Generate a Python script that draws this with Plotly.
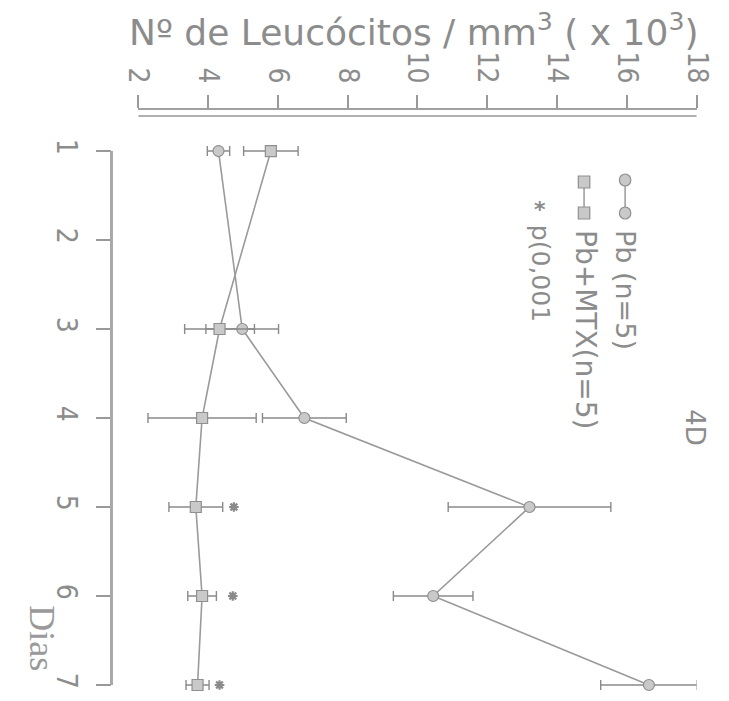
import plotly.graph_objects as go

# ---------------- data ----------------
days = [1, 2, 3, 4, 5, 6, 7]
day_labels = ["1", "2", "3", "4", "5", "6", "7"]
value_ticks = [2, 4, 6, 8, 10, 12, 14, 16, 18]
value_labels = ["2", "4", "6", "8", "10", "12", "14", "16", "18"]

pb_days = [1, 3, 4, 5, 6, 7]
pb_mean = [4.30, 4.98, 6.76, 13.21, 10.45, 16.63]
pb_err = [0.32, 1.04, 1.20, 2.33, 1.14, 1.38]

mtx_days = [1, 3, 4, 5, 6, 7]
mtx_mean = [5.80, 4.33, 3.83, 3.65, 3.83, 3.70]
mtx_err = [0.78, 1.00, 1.55, 0.77, 0.41, 0.33]

sig_days = [5, 6, 7]
sig_vals = [4.74, 4.71, 4.33]

# ---------------- styling ----------------
W, H = 729, 701
TXT = "#8c8c8c"
LINE = "#9a9a9a"
FILL = "#c9c9c9"
EDGE = "#8f8f8f"
TICKFONT = "Liberation Sans Narrow, DejaVu Sans Condensed, Liberation Sans, sans-serif"


def px(x):
    return x / W


def py(y):
    return 1 - y / H


fig = go.Figure()

fig.add_trace(go.Scatter(
    x=pb_mean, y=pb_days, mode="lines+markers", cliponaxis=False,
    line=dict(color=LINE, width=1.6),
    marker=dict(symbol="circle", size=11, color=FILL, line=dict(color=EDGE, width=1.2)),
    error_x=dict(type="data", array=pb_err, visible=True, color="#8a8a8a", thickness=1.4, width=5),
    showlegend=False,
))
fig.add_trace(go.Scatter(
    x=mtx_mean, y=mtx_days, mode="lines+markers", cliponaxis=False,
    line=dict(color=LINE, width=1.6),
    marker=dict(symbol="square", size=11, color=FILL, line=dict(color=EDGE, width=1.2)),
    error_x=dict(type="data", array=mtx_err, visible=True, color="#8a8a8a", thickness=1.4, width=5),
    showlegend=False,
))
fig.add_trace(go.Scatter(
    x=sig_vals, y=sig_days, mode="markers", cliponaxis=False,
    marker=dict(symbol="asterisk-open", size=8, color="#8a8a8a",
                line=dict(color="#8a8a8a", width=2.2)),
    showlegend=False,
))

# second (lower) line of the double value axis
fig.add_shape(type="line", xref="x", yref="paper", x0=value_ticks[0], x1=value_ticks[-1],
              y0=py(116), y1=py(116), line=dict(color="#b0b0b0", width=2))
# days axis line from day 1 to day 7
fig.add_shape(type="line", xref="paper", yref="y", x0=px(100), x1=px(100),
              y0=days[0], y1=days[-1], line=dict(color="#a8a8a8", width=3))

# ---------------- manual rotated legend ----------------
# Pb (circles)
fig.add_shape(type="line", xref="paper", yref="paper", x0=px(638), x1=px(638), y0=py(180), y1=py(213),
              line=dict(color=LINE, width=1.5))
for cy in (180, 213):
    fig.add_shape(type="circle", xref="paper", yref="paper", x0=px(632), x1=px(644), y0=py(cy + 6), y1=py(cy - 6),
                  fillcolor=FILL, line=dict(color=EDGE, width=1.2))
# Pb + MTX (squares)
fig.add_shape(type="line", xref="paper", yref="paper", x0=px(595), x1=px(595), y0=py(182), y1=py(213),
              line=dict(color=LINE, width=1.5))
for cy in (182, 213):
    fig.add_shape(type="rect", xref="paper", yref="paper", x0=px(589), x1=px(601), y0=py(cy + 6), y1=py(cy - 6),
                  fillcolor=FILL, line=dict(color=EDGE, width=1.2))

annos = [
    dict(text="Pb (n=5)", x=px(639), y=py(290), size=27),
    dict(text="Pb+MTX(n=5)", x=px(597), y=py(330), size=28),
    dict(text="p(0,001", x=px(549), y=py(273), size=25),
    dict(text="4D", x=px(711), y=py(428), size=26),
]
for a in annos:
    fig.add_annotation(text=a["text"], x=a["x"], y=a["y"], xref="paper", yref="paper",
                       showarrow=False, textangle=90, xanchor="center", yanchor="middle",
                       font=dict(family="DejaVu Sans", size=a["size"], color=TXT))
fig.add_annotation(text="<b>*</b>", x=px(549), y=py(209), xref="paper", yref="paper", showarrow=False,
                   xanchor="center", yanchor="middle",
                   font=dict(family="DejaVu Sans", size=22, color="#8a8a8a"))

# axis titles
fig.add_annotation(text="Nº de Leucócitos / mm<sup>3</sup> ( x 10<sup>3</sup>)",
                   x=px(416), y=py(30), xref="paper", yref="paper", showarrow=False,
                   xanchor="center", yanchor="middle",
                   font=dict(family="DejaVu Sans", size=36, color=TXT))
fig.add_annotation(text="Dias", x=px(27), y=py(638), xref="paper", yref="paper", showarrow=False,
                   textangle=90, xanchor="center", yanchor="middle",
                   font=dict(family="Liberation Serif", size=36, color="#9a9a9a"))

fig.update_layout(
    width=W, height=H, margin=dict(l=0, r=0, t=0, b=0),
    paper_bgcolor="white", plot_bgcolor="white",
    xaxis=dict(
        domain=[px(128), px(713)], range=[2, 18], side="top", anchor="y",
        tickmode="array", tickvals=value_ticks, ticktext=value_labels,
        ticks="outside", ticklen=13, tickwidth=1.5, tickcolor="#999",
        tickangle=90, ticklabelstandoff=2, ticklabeloverflow="allow",
        tickfont=dict(family=TICKFONT, size=28, color=TXT),
        showline=True, linecolor="#a0a0a0", linewidth=1.5,
        showgrid=False, zeroline=False,
    ),
    yaxis=dict(
        domain=[0, py(110)], range=[7.18, 0.539], anchor="free", position=px(100), side="left",
        tickmode="array", tickvals=days, ticktext=day_labels,
        ticks="outside", ticklen=15, tickwidth=1.5, tickcolor="#999",
        tickangle=90, ticklabelstandoff=6, ticklabeloverflow="allow",
        tickfont=dict(family=TICKFONT, size=28, color=TXT),
        showline=False, showgrid=False, zeroline=False,
    ),
)

fig.write_html("out.html")
